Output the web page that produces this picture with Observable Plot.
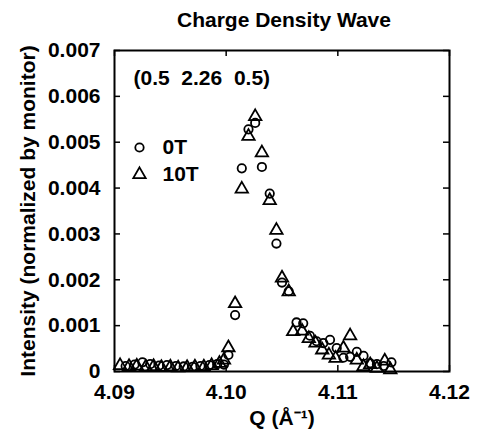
<!DOCTYPE html>
<html>
<head>
<meta charset="utf-8">
<script src="https://cdn.jsdelivr.net/npm/d3@7"></script>
<script src="https://cdn.jsdelivr.net/npm/@observablehq/plot@0.6"></script>
<style>
  html, body { margin: 0; padding: 0; background: #fff; }
</style>
</head>
<body>
<div id="chart"></div>
<script>
// ---- Data ----
const titleText = "Charge Density Wave";
const xLabel = "Q (\u00C5\u207B\u00B9)";
const yLabel = "Intensity (normalized by monitor)";
const annotation = "(0.5\u00A0\u00A02.26\u00A0\u00A00.5)";
const seriesNames = ["0T", "10T"];

const xTicks = [4.09, 4.10, 4.11, 4.12];
const yTicks = [0, 0.001, 0.002, 0.003, 0.004, 0.005, 0.006, 0.007];

// 0T (circles)
const q0T = [4.0910, 4.0918, 4.0925, 4.0932, 4.0940, 4.0947, 4.0955, 4.0962, 4.0970, 4.0977, 4.0985, 4.0992, 4.0998,
             4.1002, 4.1008, 4.1014, 4.1020, 4.1026, 4.1032, 4.1039, 4.1045, 4.1050, 4.1056,
             4.1063, 4.1069, 4.1075, 4.1081, 4.1087, 4.1093, 4.1099, 4.1105, 4.1111, 4.1117, 4.1123, 4.1129, 4.1135, 4.1141, 4.1148];
const i0T = [0.00012, 0.00015, 0.00020, 0.00016, 0.00013, 0.00014, 0.00012, 0.00011, 0.00010, 0.00012, 0.00014, 0.00016, 0.00015,
             0.00036, 0.00123, 0.00443, 0.00528, 0.00542, 0.00446, 0.00388, 0.00279, 0.00194, 0.00175,
             0.00107, 0.00105, 0.00078, 0.00066, 0.00062, 0.00069, 0.00051, 0.00030, 0.00032, 0.00043, 0.00034, 0.00018, 0.00016, 0.00012, 0.00020];

// 10T (triangles)
const q10T = [4.0905, 4.0913, 4.0920, 4.0928, 4.0935, 4.0942, 4.0950, 4.0957, 4.0965, 4.0972, 4.0980, 4.0987, 4.0994, 4.0998,
              4.1002, 4.1008, 4.1014, 4.1020, 4.1026, 4.1032, 4.1039, 4.1045, 4.1050, 4.1056,
              4.1060, 4.1068, 4.1074, 4.1080, 4.1086, 4.1092, 4.1098, 4.1105, 4.1111, 4.1117, 4.1123, 4.1129, 4.1135, 4.1142, 4.1147];
const i10T = [0.00013, 0.00011, 0.00012, 0.00010, 0.00011, 0.00009, 0.00010, 0.00008, 0.00009, 0.00010, 0.00010, 0.00013, 0.00018, 0.00025,
              0.00052, 0.00148, 0.00398, 0.00513, 0.00556, 0.00477, 0.00373, 0.00308, 0.00204, 0.00174,
              0.00087, 0.00088, 0.00072, 0.00062, 0.00047, 0.00036, 0.00029, 0.00051, 0.00078, 0.00025, 0.00011, 0.00015, 0.00007, 0.00023, 0.00004];

const d0 = q0T.map((q, i) => ({q, v: i0T[i]}));
const d10 = q10T.map((q, i) => ({q, v: i10T[i]}));

// ---- Layout ----
const W = 478, H = 436;
const mL = 114, mR = 29, mT = 50, mB = 65;
const fw = W - mL - mR, fh = H - mT - mB;
const tickLen = 6;
const font = "'Liberation Sans', Arial, Helvetica, sans-serif";

const chart = Plot.plot({
  width: W,
  height: H,
  marginLeft: mL,
  marginRight: mR,
  marginTop: mT,
  marginBottom: mB,
  style: {fontFamily: font, fontSize: "21px", fontWeight: "bold", color: "#000", background: "#fff"},
  x: {domain: [4.09, 4.12]},
  y: {domain: [0, 0.007]},
  marks: [
    Plot.axisX(xTicks, {tickSize: 0, tickPadding: 13, tickFormat: d => d.toFixed(2), label: null, fontSize: 21, fontWeight: "bold"}),
    Plot.axisY(yTicks, {tickSize: 0, tickPadding: 14, tickFormat: d => d === 0 ? "0" : d.toFixed(3), label: null, fontSize: 21, fontWeight: "bold"}),
    // inward ticks
    Plot.tickY(yTicks, {y: d => d, insetRight: fw - tickLen, stroke: "#000", strokeWidth: 1.5}),
    Plot.tickY(yTicks, {y: d => d, insetLeft: fw - tickLen, stroke: "#000", strokeWidth: 1.5}),
    Plot.tickX(xTicks, {x: d => d, insetBottom: fh - tickLen, stroke: "#000", strokeWidth: 1.5}),
    Plot.tickX(xTicks, {x: d => d, insetTop: fh - tickLen, stroke: "#000", strokeWidth: 1.5}),
    Plot.frame({stroke: "#000", strokeWidth: 2}),
    // data
    Plot.dot(d0, {x: "q", y: "v", symbol: "circle", r: 4.2, stroke: "#000", strokeWidth: 1.8, fill: "none"}),
    Plot.dot(d10, {x: "q", y: "v", symbol: "triangle", r: 4.6, stroke: "#000", strokeWidth: 1.8, fill: "none"}),
    // annotation
    Plot.text([annotation], {text: d => d, frameAnchor: "top-left", dx: 19, dy: 28, textAnchor: "start", lineAnchor: "middle", fontSize: 21, fontWeight: "bold", fill: "#000"}),
    // legend
    Plot.dot([seriesNames[0]], {frameAnchor: "top-left", dx: 25, dy: 97, symbol: "circle", r: 4.2, stroke: "#000", strokeWidth: 1.8, fill: "none"}),
    Plot.dot([seriesNames[1]], {frameAnchor: "top-left", dx: 25, dy: 124, symbol: "triangle", r: 4.6, stroke: "#000", strokeWidth: 1.8, fill: "none"}),
    Plot.text([seriesNames[0]], {text: d => d, frameAnchor: "top-left", dx: 48, dy: 97, textAnchor: "start", lineAnchor: "middle", fontSize: 21, fontWeight: "bold", fill: "#000"}),
    Plot.text([seriesNames[1]], {text: d => d, frameAnchor: "top-left", dx: 48, dy: 124, textAnchor: "start", lineAnchor: "middle", fontSize: 21, fontWeight: "bold", fill: "#000"}),
    // title
    Plot.text([titleText], {text: d => d, frameAnchor: "top", dx: 2, dy: -30, textAnchor: "middle", lineAnchor: "middle", fontSize: 21, fontWeight: "bold", fill: "#000"}),
    // axis labels
    Plot.text([xLabel], {text: d => d, frameAnchor: "bottom", dy: 47, textAnchor: "middle", lineAnchor: "middle", fontSize: 21, fontWeight: "bold", fill: "#000"}),
    Plot.text([yLabel], {text: d => d, frameAnchor: "left", dx: -86, rotate: -90, textAnchor: "middle", lineAnchor: "middle", fontSize: 21, fontWeight: "bold", fill: "#000"})
  ]
});

document.getElementById("chart").appendChild(chart);
</script>
</body>
</html>
